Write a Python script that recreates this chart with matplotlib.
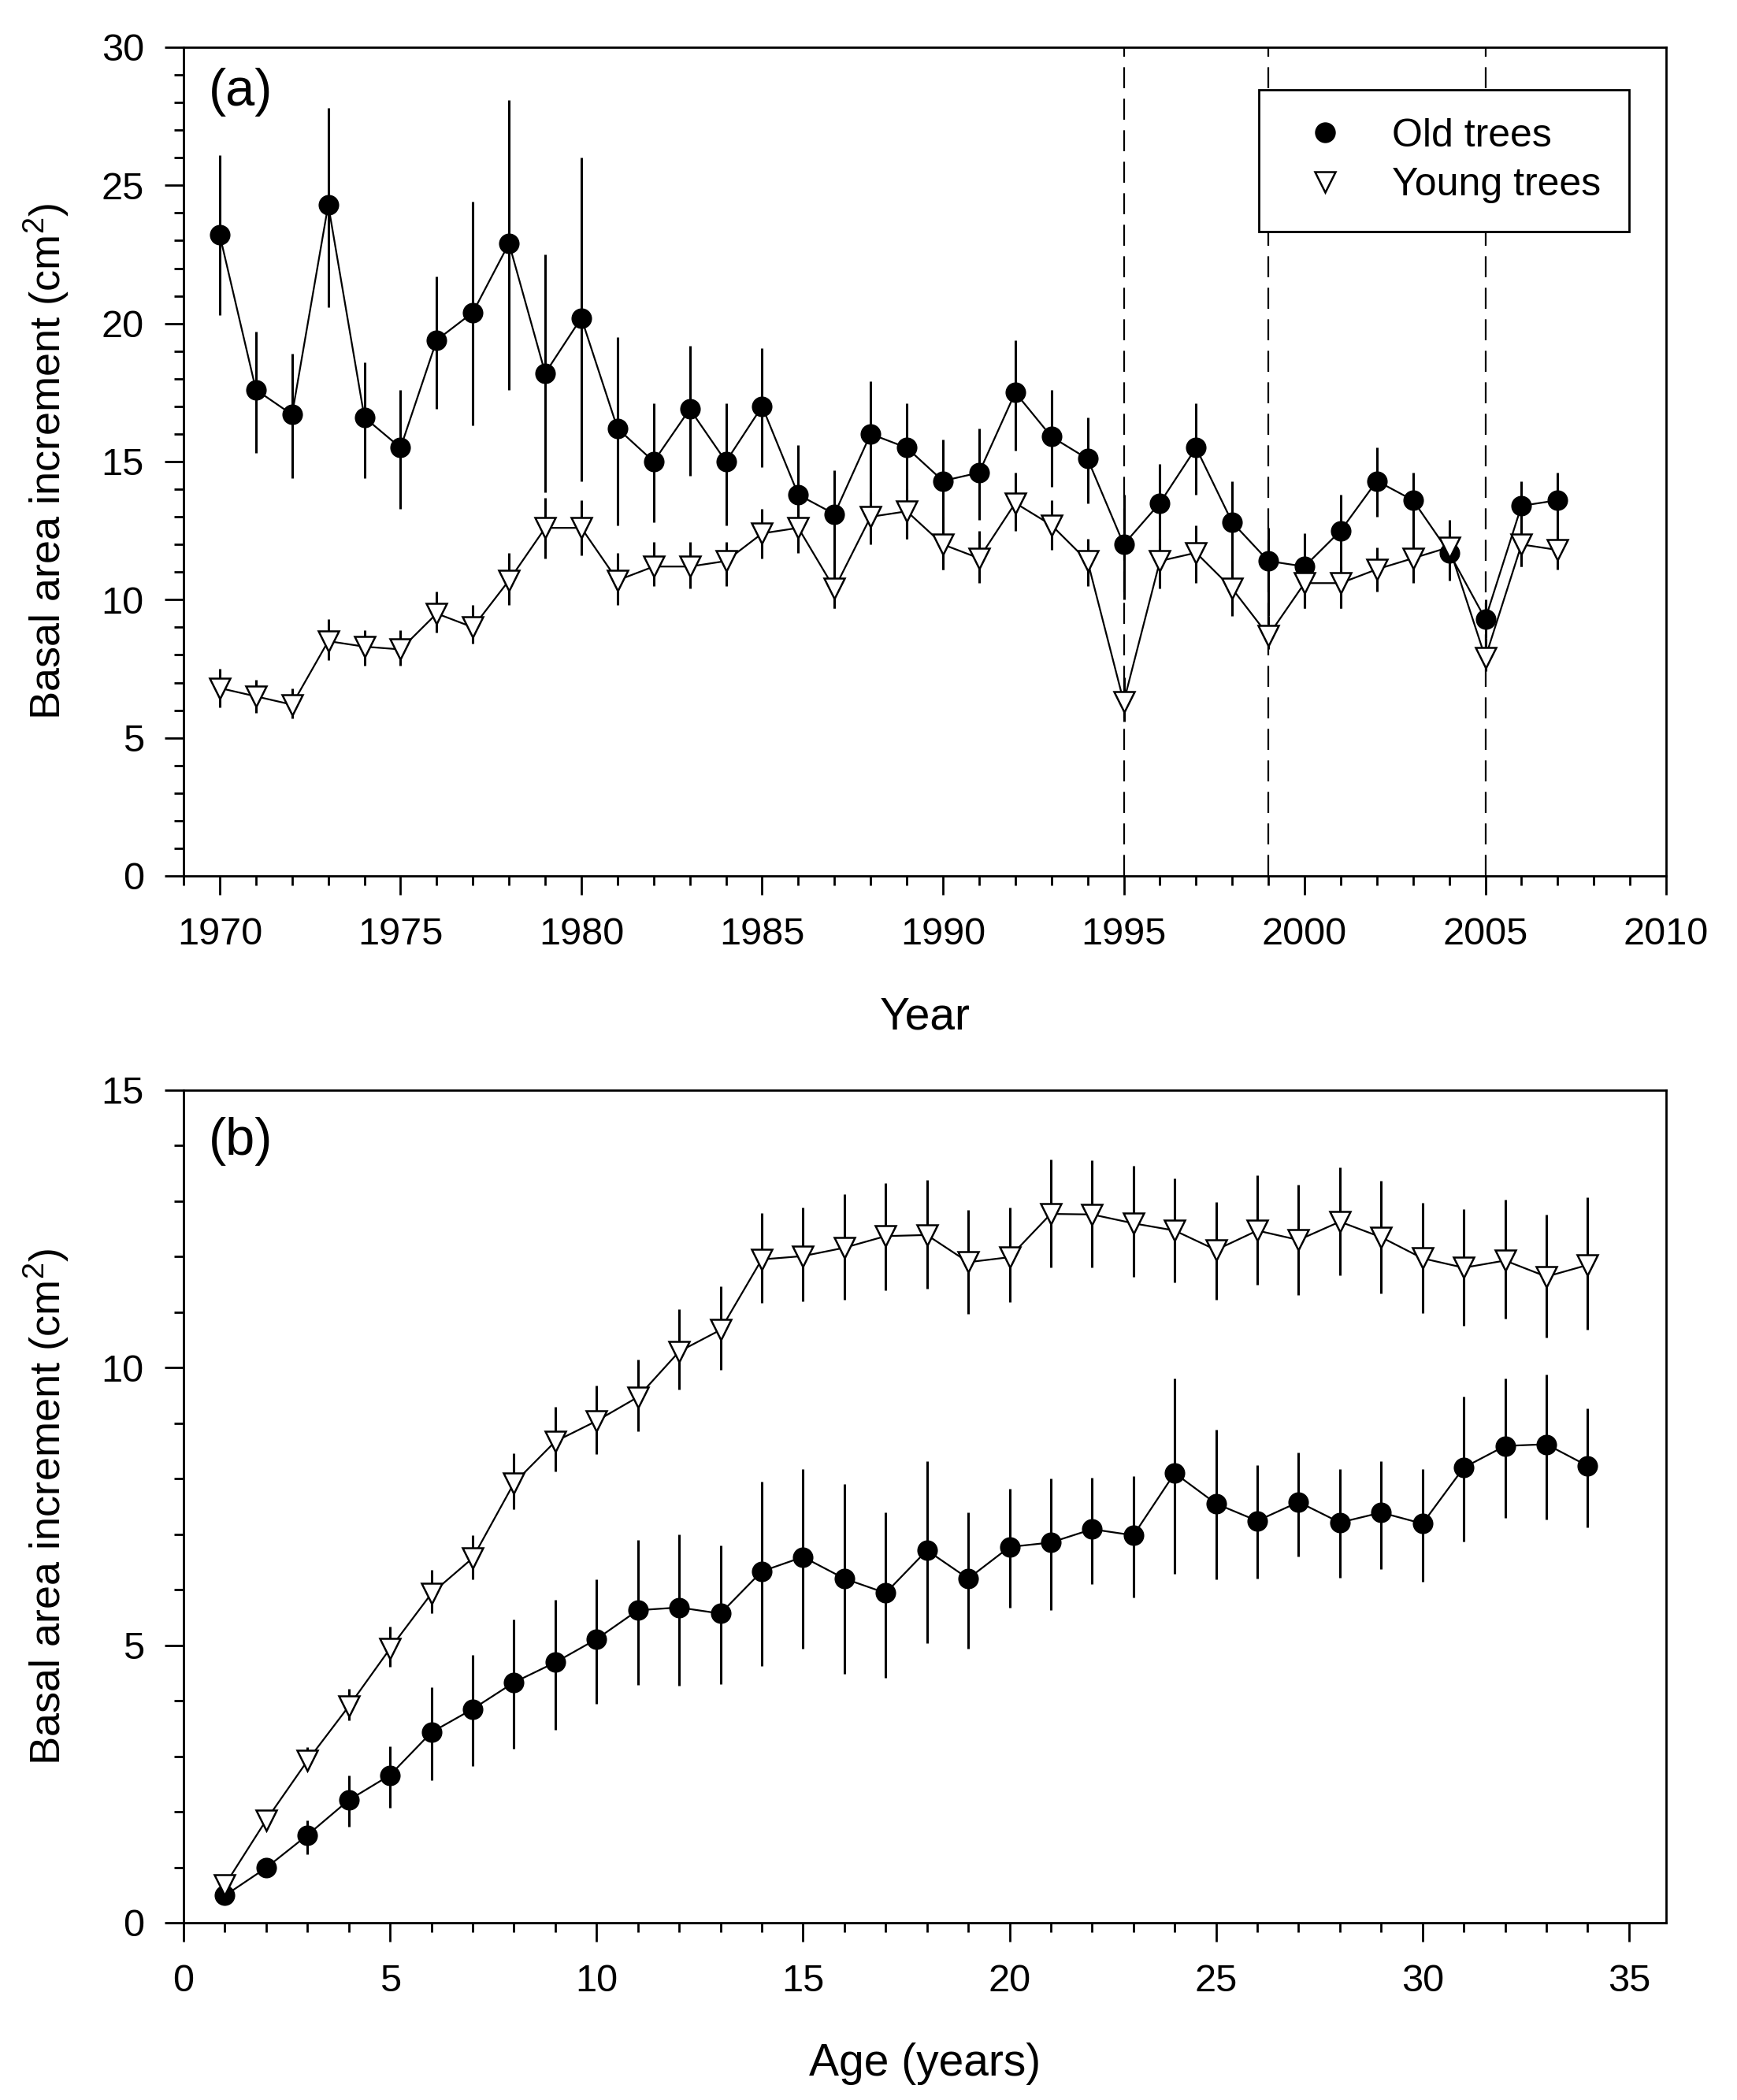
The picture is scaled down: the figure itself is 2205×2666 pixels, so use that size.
import numpy as np
import matplotlib
matplotlib.use('Agg')
import matplotlib.pyplot as plt
from matplotlib.lines import Line2D
from matplotlib.ticker import MultipleLocator

plt.rcParams['font.family'] = ['Liberation Sans', 'DejaVu Sans']
plt.rcParams['mathtext.default'] = 'regular'

# Panel (a): basal area increment by calendar year
years = np.arange(1970, 2008)
old_a = [23.2, 17.6, 16.7, 24.3, 16.6, 15.5, 19.4, 20.4, 22.9, 18.2,
         20.2, 16.2, 15.0, 16.9, 15.0, 17.0, 13.8, 13.1, 16.0, 15.5,
         14.3, 14.6, 17.5, 15.9, 15.1, 12.0, 13.5, 15.5, 12.8, 11.4,
         11.2, 12.5, 14.3, 13.6, 11.7, 9.3, 13.4, 13.6]
old_a_lo = [20.3, 15.3, 14.4, 20.6, 14.4, 13.3, 16.9, 16.3, 17.6, 13.9,
            14.3, 12.7, 12.8, 14.5, 12.7, 14.8, 12.4, 9.7, 13.1, 12.2,
            11.1, 12.9, 15.4, 14.1, 13.5, 10.0, 11.5, 13.8, 9.5, 9.4,
            9.7, 9.7, 13.0, 11.7, 10.7, 8.6, 11.2, 12.0]
old_a_hi = [26.1, 19.7, 18.9, 27.8, 18.6, 17.6, 21.7, 24.4, 28.1, 22.5,
            26.0, 19.5, 17.1, 19.2, 17.1, 19.1, 15.6, 14.7, 17.9, 17.1,
            15.8, 16.2, 19.4, 17.6, 16.6, 13.8, 14.9, 17.1, 14.3, 12.6,
            12.4, 13.8, 15.5, 14.6, 12.9, 10.0, 14.3, 14.6]
young_a = [6.8, 6.5, 6.2, 8.5, 8.3, 8.2, 9.5, 9.0, 10.7, 12.6,
           12.6, 10.7, 11.2, 11.2, 11.4, 12.4, 12.6, 10.4, 13.0, 13.2,
           12.0, 11.5, 13.5, 12.7, 11.4, 6.3, 11.4, 11.7, 10.4, 8.7,
           10.6, 10.6, 11.1, 11.5, 11.9, 7.9, 12.0, 11.8]
young_a_lo = [6.1, 5.9, 5.7, 7.8, 7.6, 7.6, 8.8, 8.4, 9.8, 11.5,
              11.6, 9.8, 10.5, 10.4, 10.5, 11.5, 11.7, 9.7, 12.0, 12.2,
              11.1, 10.6, 12.5, 11.8, 10.5, 5.6, 10.4, 10.6, 9.4, 8.2,
              9.7, 9.7, 10.3, 10.6, 11.4, 7.4, 11.2, 11.1]
young_a_hi = [7.5, 7.1, 6.8, 9.3, 8.9, 8.9, 10.3, 9.8, 11.7, 13.7,
              13.6, 11.7, 12.1, 12.1, 12.1, 13.3, 13.3, 11.4, 13.9, 14.0,
              13.0, 12.5, 14.6, 13.6, 12.2, 7.2, 12.2, 12.7, 11.4, 9.4,
              11.3, 11.2, 11.9, 12.3, 12.5, 8.6, 12.7, 12.5]
event_years = [1995, 1999, 2005]

# Panel (b): basal area increment by cambial age
ages = np.arange(1, 35)
old_b = [0.49, 0.99, 1.58, 2.21, 2.66, 3.43, 3.85, 4.33, 4.69, 5.11,
         5.63, 5.68, 5.57, 6.33, 6.59, 6.20, 5.94, 6.71, 6.20, 6.77,
         6.85, 7.09, 6.98, 8.10, 7.55, 7.24, 7.58, 7.21, 7.39, 7.19,
         8.20, 8.59, 8.62, 8.23]
old_b_lo = [0.38, 0.83, 1.24, 1.73, 2.07, 2.57, 2.82, 3.13, 3.48, 3.95,
            4.29, 4.27, 4.30, 4.63, 4.94, 4.48, 4.42, 5.04, 4.94, 5.67,
            5.63, 6.10, 5.86, 6.29, 6.18, 6.20, 6.60, 6.21, 6.37, 6.15,
            6.87, 7.29, 7.27, 7.13]
old_b_hi = [0.60, 1.14, 1.85, 2.66, 3.18, 4.24, 4.82, 5.47, 5.82, 6.19,
            6.89, 7.00, 6.80, 7.94, 8.17, 7.90, 7.40, 8.32, 7.39, 7.82,
            8.00, 8.02, 8.05, 9.81, 8.88, 8.25, 8.47, 8.18, 8.32, 8.18,
            9.48, 9.80, 9.87, 9.27]
young_b = [0.68, 1.85, 2.92, 3.90, 4.94, 5.93, 6.57, 7.92, 8.67, 9.04,
           9.47, 10.29, 10.68, 11.95, 12.01, 12.16, 12.37, 12.39, 11.90, 11.99,
           12.77, 12.76, 12.60, 12.47, 12.12, 12.47, 12.30, 12.63, 12.35, 11.97,
           11.80, 11.93, 11.64, 11.85]
young_b_lo = [0.55, 1.72, 2.75, 3.64, 4.61, 5.57, 6.19, 7.45, 8.13, 8.44,
              8.86, 9.61, 9.96, 11.17, 11.20, 11.23, 11.40, 11.42, 10.97, 11.18,
              11.80, 11.80, 11.63, 11.53, 11.23, 11.50, 11.31, 11.66, 11.34, 10.98,
              10.75, 10.88, 10.55, 10.68]
young_b_hi = [0.75, 1.96, 3.17, 4.21, 5.33, 6.36, 6.98, 8.46, 9.30, 9.68,
              10.15, 11.05, 11.46, 12.79, 12.88, 13.12, 13.33, 13.38, 12.84, 12.88,
              13.75, 13.73, 13.63, 13.41, 12.98, 13.46, 13.29, 13.61, 13.37, 12.97,
              12.86, 13.02, 12.76, 13.07]

TICK_FS = 17.5
LABEL_FS = 20.5
YLABEL_FS = 19.5


def draw_series(ax, x, y, lo, hi, marker, face):
    y = np.asarray(y)
    yerr = [y - np.asarray(lo), np.asarray(hi) - y]
    ax.errorbar(x, y, yerr=yerr, fmt='none', ecolor='black',
                elinewidth=1.1, capsize=0, zorder=2)
    ax.plot(x, y, color='black', lw=0.8, marker=marker,
            markersize=9.5 if marker == 'v' else 8.5,
            markerfacecolor=face, markeredgecolor='black', markeredgewidth=0.9, zorder=3)


def style_axes(ax):
    for side in ['left', 'right', 'top', 'bottom']:
        ax.spines[side].set_linewidth(1.0)
    ax.tick_params(which='both', direction='out', top=False, right=False,
                   width=1.0, labelsize=TICK_FS)
    ax.tick_params(which='major', length=8.6)
    ax.tick_params(which='minor', length=4.3)
    ax.tick_params(axis='x', which='major', pad=10)
    ax.tick_params(axis='y', which='major', pad=9.5)
    ax.xaxis.set_major_locator(MultipleLocator(5))
    ax.xaxis.set_minor_locator(MultipleLocator(1))
    ax.yaxis.set_major_locator(MultipleLocator(5))
    ax.yaxis.set_minor_locator(MultipleLocator(1))


fig = plt.figure(figsize=(11.025, 13.33), dpi=200)
ax1 = fig.add_axes([0.1057, 0.5829, 0.8535, 0.3946])
ax2 = fig.add_axes([0.1057, 0.0844, 0.8535, 0.3965])

# ---- panel (a)
for yr in event_years:
    ax1.axvline(yr, color='black', lw=0.8, linestyle=(0, (12, 6)), zorder=1)
draw_series(ax1, years, old_a, old_a_lo, old_a_hi, 'o', 'black')
draw_series(ax1, years, young_a, young_a_lo, young_a_hi, 'v', 'white')
ax1.set_xlim(1969, 2010)
ax1.set_ylim(0, 30)
style_axes(ax1)
ax1.set_xlabel('Year', fontsize=LABEL_FS, labelpad=20)
ax1.set_ylabel('Basal area increment (cm$^2$)', fontsize=YLABEL_FS, labelpad=14)
ax1.text(0.017, 0.975, '(a)', transform=ax1.transAxes, fontsize=24,
         ha='left', va='top')

handles = [Line2D([], [], linestyle='none', marker='o', markersize=8.5,
                  markerfacecolor='black', markeredgecolor='black'),
           Line2D([], [], linestyle='none', marker='v', markersize=9.5,
                  markerfacecolor='white', markeredgecolor='black', markeredgewidth=0.9)]
leg = ax1.legend(handles, ['Old trees', 'Young trees'], loc='upper right',
                 bbox_to_anchor=(0.975, 0.949), fontsize=18, frameon=True,
                 fancybox=False, framealpha=1, edgecolor='black',
                 borderpad=0.72, labelspacing=0.33, handlelength=1.9,
                 handletextpad=0.75, borderaxespad=0)
leg.get_frame().set_linewidth(1.0)

# ---- panel (b)
draw_series(ax2, ages, old_b, old_b_lo, old_b_hi, 'o', 'black')
draw_series(ax2, ages, young_b, young_b_lo, young_b_hi, 'v', 'white')
ax2.set_xlim(0, 35.9)
ax2.set_ylim(0, 15)
style_axes(ax2)
ax2.set_xlabel('Age (years)', fontsize=LABEL_FS, labelpad=20)
ax2.set_ylabel('Basal area increment (cm$^2$)', fontsize=YLABEL_FS, labelpad=14)
ax2.text(0.017, 0.968, '(b)', transform=ax2.transAxes, fontsize=24,
         ha='left', va='top')

fig.savefig('out.png', dpi=200)
